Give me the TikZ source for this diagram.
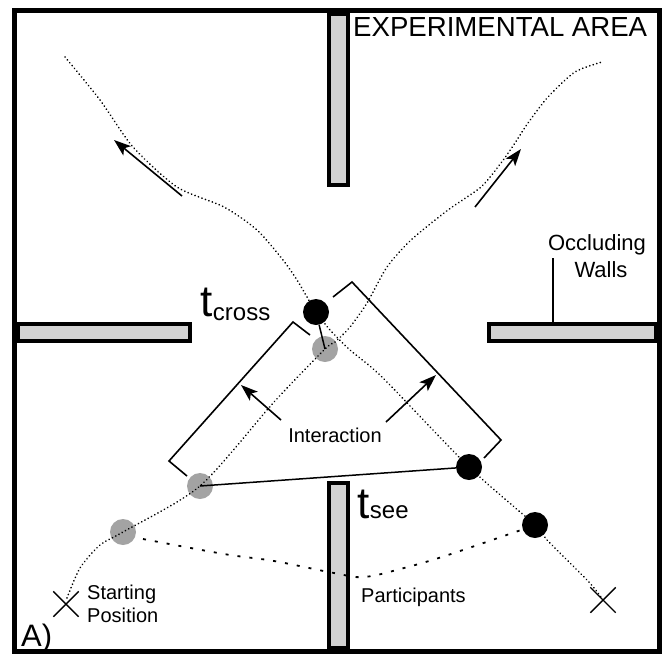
\documentclass[tikz,border=0pt]{standalone}
\usepackage{fontspec}
\setmainfont{Liberation Sans}
\usetikzlibrary{arrows.meta,shapes.misc}
\definecolor{wallgray}{HTML}{D2D2D2}
\definecolor{dotgray}{HTML}{A3A3A3}
\begin{document}
\begin{tikzpicture}[x=1pt,y=-1pt,
  wall/.style={draw=black,fill=wallgray,line width=4.5pt},
  arena/.style={draw=black,line width=5pt},
  blackdot/.style={circle,fill=black,inner sep=0pt,minimum size=26pt},
  graydot/.style={circle,fill=dotgray,inner sep=0pt,minimum size=26pt},
  track/.style={line width=1.8pt,dash pattern=on 0.1pt off 3.6pt,line cap=round},
  partline/.style={line width=1.8pt,dash pattern=on 3pt off 9pt},
  bracket/.style={line width=1.6pt},
  dirarrow/.style={line width=1.6pt,-{Stealth[length=17pt,width=12pt,inset=4pt]}},
  xmark/.style={cross out,draw,line width=1.4pt,minimum size=24pt,inner sep=0pt},
  lbl/.style={inner sep=0pt,font=\fontsize{20}{23}\selectfont},
]
\useasboundingbox (0,0) rectangle (671,656);

% occluding walls
\draw[wall] (329,14) rectangle (348,185);
\draw[wall] (329,483) rectangle (348,648);
\draw[wall] (18,324) rectangle (190,341);
\draw[wall] (489,324) rectangle (656,341);

% outer boundary of the area
\draw[arena] (14.5,10.5) rectangle (659,651);

\node[anchor=base west,inner sep=0pt,font=\fontsize{27.6}{28}\selectfont]
  (title) at (353,36) {EXPERIMENTAL AREA};

% participants' positions
\node[blackdot] (b3) at (316,312) {};
\node[blackdot] (b1) at (469,467) {};
\node[blackdot] (b2) at (535,525) {};
\node[graydot]  (g3) at (325,349) {};
\node[graydot]  (g1) at (200,486) {};
\node[graydot]  (g2) at (123,532) {};

% starting positions
\node[xmark] (s1) at (66,604) {};
\node[xmark] (s2) at (603,600) {};

% walking trajectories
\draw[track] plot[smooth,tension=0.45] coordinates {
  (65,57) (100,100) (133,147) (177,187) (224,207) (257,230) (283,260)
  (297,280) (307,297) (b3.center)};
\draw[track] plot[smooth,tension=0.45] coordinates {
  (b3.center) (330,330) (350,350) (383,378) (b1.center) (b2.center)
  (548,541) (588,581) (601,597)};
\draw[track] plot[smooth,tension=0.45] coordinates {
  (67,598) (80,568) (100,545) (g2.center) (g1.center) (274,402) (g3.center)
  (335,342) (350,327) (367,303) (387,267) (411,240) (448,210) (481,187)
  (501,163) (515,143) (528,123) (548,97) (575,72) (602,62)};

% heading arrows
\coordinate (a1s) at (182,196); \coordinate (a1e) at (114,140);
\coordinate (a2s) at (475,207); \coordinate (a2e) at (521,149);
\draw[dirarrow] (a1s) -- (a1e);
\draw[dirarrow] (a2s) -- (a2e);

% crossing and seeing moments
\draw[line width=1.5pt] (b3) -- (g3.center);
\draw[line width=1.5pt] (g1.center) -- (b1);

\node[anchor=base west,inner sep=0pt] (tcross) at (200,316)
  {\fontsize{44}{44}\selectfont t\hspace{0.5pt}\raisebox{-4pt}{\fontsize{24}{24}\selectfont cross}};
\node[anchor=base west,inner sep=0pt] (tsee) at (357,518)
  {\fontsize{44}{44}\selectfont t\hspace{0.5pt}\fontsize{24}{24}\selectfont see};

% interaction brackets
\coordinate (lb1) at (187,476); \coordinate (lb2) at (169,461);
\coordinate (lb3) at (293,322); \coordinate (lb4) at (310,335);
\coordinate (rb1) at (333,297); \coordinate (rb2) at (352,282);
\coordinate (rb3) at (501,440); \coordinate (rb4) at (484,458);
\draw[bracket] (lb1) -- (lb2) -- (lb3) -- (lb4);
\draw[bracket] (rb1) -- (rb2) -- (rb3) -- (rb4);

\node[lbl] (inter) at (335,435) {Interaction};
\coordinate (a3s) at (281,420); \coordinate (a3e) at (241,385);
\coordinate (a4s) at (386,422); \coordinate (a4e) at (436,375);
\draw[dirarrow] (a3s) -- (a3e);
\draw[dirarrow] (a4s) -- (a4e);

% participants label and link
\draw[partline] plot[smooth,tension=0.6] coordinates {
  (143,539) (224,554) (274,561) (334,573) (364,577) (404,568) (448,555) (521,530)};
\node[lbl,anchor=west] (part) at (361,597) {Participants};

% starting position label
\node[lbl,anchor=west,align=left] (start) at (87,604) {Starting\\Position};

% occluding walls label
\node[inner sep=0pt,align=center,font=\fontsize{22}{27}\selectfont]
  (occ) at (597,256) {Occluding\\\hspace*{8pt}Walls};
\coordinate (occtop) at (553,258);
\coordinate (rwtop) at (553,322);
\draw[line width=1.3pt] (occtop) -- (rwtop);

\node[anchor=base west,inner sep=0pt,font=\fontsize{31}{31}\selectfont] (panel) at (21,646) {A)};
\end{tikzpicture}
\end{document}
